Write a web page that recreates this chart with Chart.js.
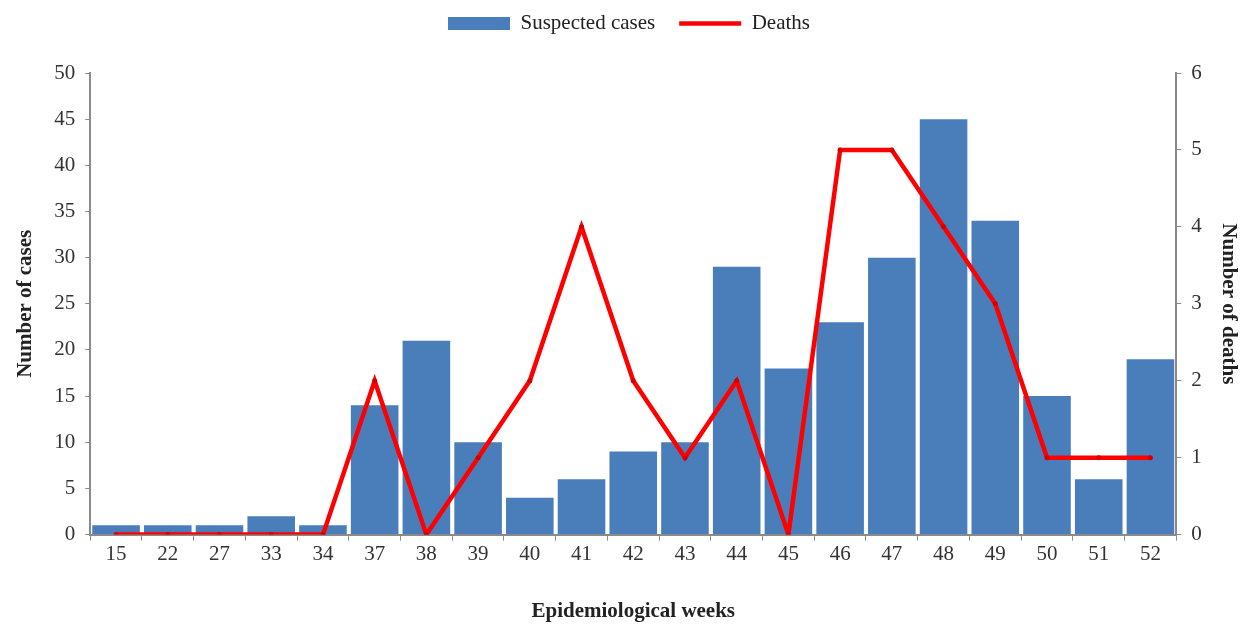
<!DOCTYPE html>
<html>
<head>
<meta charset="utf-8">
<script src="https://cdn.jsdelivr.net/npm/chart.js@4/dist/chart.umd.min.js"></script>
<style>
html,body{margin:0;padding:0;background:#fff;}
#wrap{width:1249px;height:631px;}
</style>
</head>
<body>
<div id="wrap"><canvas id="c" width="1249" height="631"></canvas></div>
<script>
const weeks = ['15','22','27','33','34','37','38','39','40','41','42','43','44','45','46','47','48','49','50','51','52'];
const suspectedCases = [1,1,1,2,1,14,21,10,4,6,9,10,29,18,23,30,45,34,15,6,19];
const deaths = [0,0,0,0,0,2,0,1,2,4,2,1,2,0,5,5,4,3,1,1,1];

const FONT = "'Liberation Serif', 'Times New Roman', serif";
const BLUE = '#4A7EBB';
const RED = '#FF0000';

const legendMargin = {
  id: 'legendMargin',
  beforeInit(chart) {
    const lg = chart.legend;
    const origFit = lg.fit;
    lg.fit = function () {
      origFit.bind(lg)();
      this.height += 16;
    };
    const origDraw = lg.draw;
    lg.draw = function () {
      const ctx = chart.ctx;
      ctx.save();
      ctx.translate(0, -13);
      origDraw.apply(lg, arguments);
      ctx.restore();
    };
  }
};

new Chart(document.getElementById('c'), {
  data: {
    labels: weeks,
    datasets: [
      {
        type: 'line',
        label: 'Deaths',
        data: deaths,
        yAxisID: 'y1',
        borderColor: RED,
        backgroundColor: RED,
        borderWidth: 4.5,
        pointRadius: 2.5,
        pointBackgroundColor: '#D00000',
        pointBorderWidth: 0,
        tension: 0,
        order: 0
      },
      {
        type: 'bar',
        label: 'Suspected cases',
        data: suspectedCases,
        yAxisID: 'y',
        backgroundColor: BLUE,
        borderWidth: 0,
        categoryPercentage: 1.0,
        barPercentage: 0.92,
        order: 1
      }
    ]
  },
  plugins: [legendMargin],
  options: {
    responsive: false,
    animation: false,
    layout: { padding: { left: 9, right: 0, top: 2, bottom: 7 } },
    plugins: {
      tooltip: { enabled: false },
      legend: {
        position: 'top',
        reverse: true,
        labels: {
          font: { family: FONT, size: 21 },
          color: '#222',
          usePointStyle: true,
          pointStyleWidth: 62,
          boxHeight: 13,
          padding: 24,
          generateLabels(chart) {
            const items = Chart.defaults.plugins.legend.labels.generateLabels(chart);
            items.forEach(it => {
              const ds = chart.data.datasets[it.datasetIndex];
              if (ds.type === 'line') {
                it.pointStyle = 'line';
                it.strokeStyle = RED;
                it.lineWidth = 4.5;
              } else {
                it.pointStyle = 'rect';
                it.fillStyle = BLUE;
                it.strokeStyle = BLUE;
                it.lineWidth = 0;
              }
            });
            return items;
          }
        }
      }
    },
    scales: {
      x: {
        offset: true,
        grid: { display: true, drawOnChartArea: false, color: '#8a8a8a', tickLength: 6, offset: true },
        border: { display: true, color: '#8a8a8a', width: 2 },
        ticks: { font: { family: FONT, size: 21 }, color: '#333', padding: 1, maxRotation: 0, autoSkip: false },
        title: { display: true, text: 'Epidemiological weeks', font: { family: FONT, size: 21, weight: 'bold' }, color: '#222', padding: { top: 31, bottom: 0 } }
      },
      y: {
        position: 'left',
        min: 0, max: 50,
        ticks: { stepSize: 5, font: { family: FONT, size: 21 }, color: '#333', padding: 10 },
        grid: { display: true, drawOnChartArea: false, color: '#8a8a8a', tickLength: 5 },
        border: { display: true, color: '#8a8a8a', width: 2 },
        title: { display: true, text: 'Number of cases', font: { family: FONT, size: 21, weight: 'bold' }, color: '#222', padding: { bottom: 6 } }
      },
      y1: {
        position: 'right',
        min: 0, max: 6,
        ticks: { stepSize: 1, font: { family: FONT, size: 21 }, color: '#333', padding: 10 },
        grid: { display: true, drawOnChartArea: false, color: '#8a8a8a', tickLength: 5 },
        border: { display: true, color: '#8a8a8a', width: 2 },
        title: { display: true, text: 'Number of deaths', font: { family: FONT, size: 21, weight: 'bold' }, color: '#222', padding: { top: 8 } }
      }
    }
  }
});
</script>
</body>
</html>
